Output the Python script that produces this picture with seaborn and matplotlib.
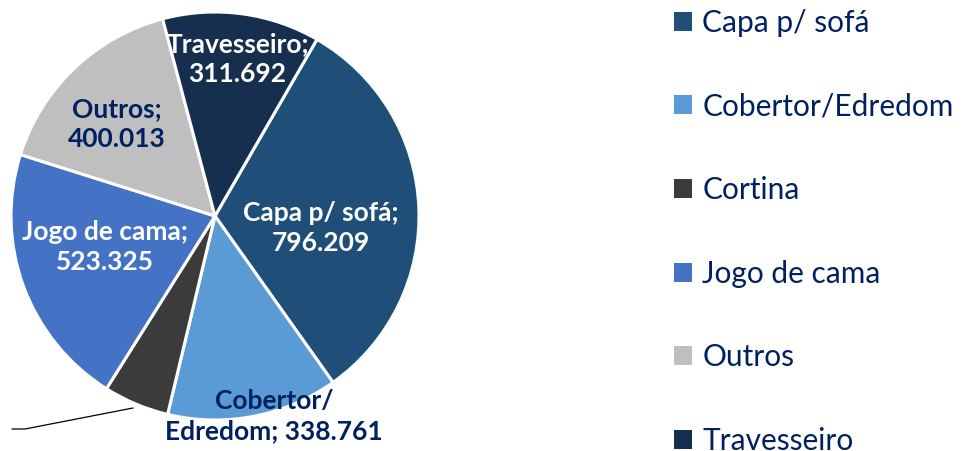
import matplotlib
matplotlib.use("Agg")
import matplotlib.pyplot as plt
import seaborn as sns
from matplotlib.patches import Patch

sns.set_theme(style="white")
plt.rcParams['font.family'] = ['Lato', 'DejaVu Sans']

categories = ["Capa p/ sofá", "Cobertor/Edredom", "Cortina", "Jogo de cama", "Outros", "Travesseiro"]
values = [796209, 338761, 130000, 523325, 400013, 311692]
label_texts = ["Capa p/ sofá;\n796.209", "Cobertor/\nEdredom; 338.761", "",
               "Jogo de cama;\n523.325", "Outros;\n400.013", "Travesseiro;\n311.692"]
colors = ["#1F4E79", "#5B9BD5", "#3B3B3B", "#4472C4", "#BFBFBF", "#162F4F"]
label_colors = ["white", "#002060", "white", "white", "#002060", "white"]
label_pos = [(0.52, -0.06), (0.29, -0.98), (0, 0), (-0.54, -0.15), (-0.48, 0.45), (0.11, 0.77)]

W, H = 970, 451
fig = plt.figure(figsize=(W / 100, H / 100), dpi=100)
cx, cy, r = 215, 216, 204
ax = fig.add_axes([(cx - r) / W, (H - cy - r) / H, 2 * r / W, 2 * r / H])

wedges, _ = ax.pie(values, colors=colors, startangle=60, counterclock=False, radius=1,
                   wedgeprops=dict(edgecolor="white", linewidth=2.2))
ax.set_xlim(-1, 1)
ax.set_ylim(-1, 1)
ax.axis("off")
for txt, col, pos in zip(label_texts, label_colors, label_pos):
    if txt:
        ax.text(pos[0], pos[1], txt, ha="center", va="center", color=col,
                fontsize=19, fontweight="bold", linespacing=1.3, clip_on=False)

# leader line for Cortina label (label lies outside the visible area)
ax.plot([(133 - cx) / r, (25 - cx) / r, (12 - cx) / r],
        [(cy - 408) / r, (cy - 429) / r, (cy - 429) / r],
        color="black", lw=0.9, clip_on=False)

handles = [Patch(facecolor=c, edgecolor="none") for c in colors]
leg = fig.legend(handles, categories, loc="upper left", bbox_to_anchor=(662 / W, 1 + 3 / H),
                 frameon=False, fontsize=21.5, labelspacing=1.86, handlelength=0.6,
                 handleheight=0.6, handletextpad=0.35, borderaxespad=0)
for t in leg.get_texts():
    t.set_color("#002060")

fig.savefig("out.png", dpi=100)
